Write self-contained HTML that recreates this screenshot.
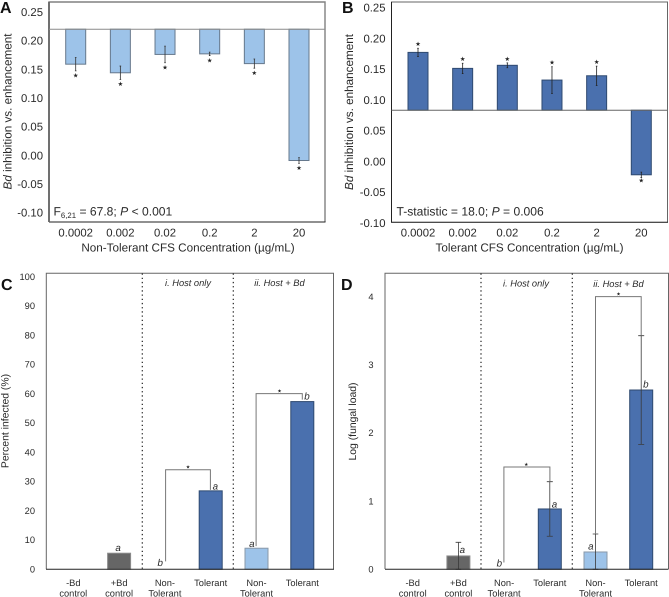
<!DOCTYPE html>
<html lang="en">
<head>
<meta charset="utf-8">
<title>Bd inhibition and infection charts</title>
<style>
html,body{margin:0;padding:0;background:#fff;width:669px;height:597px;overflow:hidden}
svg{display:block;filter:blur(0.3px)}
text{font-family:"Liberation Sans",Arial,sans-serif;fill:#2a2a2a;text-rendering:geometricPrecision}
.tk{font-size:11.3px}
.tt{font-size:11.7px}
.st{font-size:12.1px}
.tc{font-size:9.3px}
.lt{font-size:9.8px}
.it{font-style:italic}
</style>
</head>
<body>
<svg id="figure" xmlns="http://www.w3.org/2000/svg" width="669" height="597" viewBox="0 0 669 597">
  <g>
    <text x="0" y="13" style="font-size:16px;font-weight:bold;fill:#111">A</text>
    <path d="M49 222V2H325V222" fill="none" stroke="#808080" stroke-width="1.4"/>
    <line x1="49" y1="222" x2="325.5" y2="222" stroke="#222" stroke-width="1"/>
    <line x1="49" y1="2" x2="49" y2="222" stroke="#666" stroke-width="1.8"/>
    <text class="tt" transform="translate(11.5,111.5) rotate(-90)" text-anchor="middle"><tspan class="it">Bd</tspan> inhibition vs. enhancement</text>
    <text class="tt" x="188" y="251.5" text-anchor="middle">Non-Tolerant CFS Concentration (µg/mL)</text>
    <text class="st" x="53.5" y="215.5">F<tspan font-size="7.8" dy="2.5">6,21</tspan><tspan dy="-2.5"> = 67.8; </tspan><tspan class="it">P</tspan> &lt; 0.001</text>
  </g>
  <g>
    <text x="342" y="13" style="font-size:16px;font-weight:bold;fill:#111">B</text>
    <path d="M391.5 222V2H667.5V222" fill="none" stroke="#666" stroke-width="1"/>
    <line x1="391" y1="222.3" x2="668" y2="222.3" stroke="#111" stroke-width="1"/>
    <line x1="391.5" y1="2" x2="391.5" y2="222" stroke="#222" stroke-width="1"/>
    <text class="tt" transform="translate(353,112) rotate(-90)" text-anchor="middle"><tspan class="it">Bd</tspan> inhibition vs. enhancement</text>
    <text class="tt" x="529.5" y="251.5" text-anchor="middle">Tolerant CFS Concentration (µg/mL)</text>
    <text class="st" x="396.5" y="215.5">T-statistic = 18.0; <tspan class="it">P</tspan> = 0.006</text>
  </g>
  <g>
    <text x="1" y="290" style="font-size:16px;font-weight:bold;fill:#111">C</text>
    <path d="M46.3 569V273.3H333.5V569" fill="none" stroke="#666" stroke-width="1"/>
    <text transform="translate(8.5,421) rotate(-90)" text-anchor="middle" style="font-size:10.4px">Percent infected (%)</text>
    <text class="tc it" x="188" y="285.8" text-anchor="middle">i. Host only</text>
    <text class="tc it" x="279.5" y="286" text-anchor="middle">ii. Host + Bd</text>
    <line x1="142.3" y1="273.5" x2="142.3" y2="569" stroke="#222" stroke-width="1.2" stroke-dasharray="1.3 2.9"/>
    <line x1="233.3" y1="273.5" x2="233.3" y2="569" stroke="#222" stroke-width="1.2" stroke-dasharray="1.3 2.9"/>
  </g>
  <g>
    <text x="341" y="290" style="font-size:16px;font-weight:bold;fill:#111">D</text>
    <path d="M385 569V273.3H668.5V569" fill="none" stroke="#666" stroke-width="1"/>
    <text transform="translate(356,421.5) rotate(-90)" text-anchor="middle" style="font-size:10.4px">Log (fungal load)</text>
    <text class="tc it" x="526" y="286.5" text-anchor="middle">i. Host only</text>
    <text class="tc it" x="618.5" y="287" text-anchor="middle">ii. Host + Bd</text>
    <line x1="481" y1="273.5" x2="481" y2="569" stroke="#222" stroke-width="1.2" stroke-dasharray="1.3 2.9"/>
    <line x1="572.3" y1="273.5" x2="572.3" y2="569" stroke="#222" stroke-width="1.2" stroke-dasharray="1.3 2.9"/>
  </g>
</svg>
<script>
const concentrations = ["0.0002", "0.002", "0.02", "0.2", "2", "20"];
const panelAValues = [0.159, 0.144, 0.176, 0.177, 0.160, -0.009];
const panelAErrors = [0.0117, 0.0117, 0.0145, 0.003, 0.008, 0.005];
const panelABaseline = 0.22;
const panelATicks = ["0.25", "0.20", "0.15", "0.10", "0.05", "0.00", "-0.05", "-0.10"];
const panelBValues = [0.177, 0.151, 0.156, 0.132, 0.139, -0.022];
const panelBErrors = [0.0068, 0.0084, 0.004, 0.0217, 0.0157, 0.0043];
const panelBBaseline = 0.083;
const panelBTicks = ["0.25", "0.20", "0.15", "0.10", "0.05", "0.00", "-0.05", "-0.10"];
const hostCategories = [["-Bd", "control"], ["+Bd", "control"], ["Non-", "Tolerant"], ["Tolerant"], ["Non-", "Tolerant"], ["Tolerant"]];
const hostColors = ["none", "#666666", "none", "#4a70ae", "#9dc3e9", "#4a70ae"];
const panelCValues = [0, 5.5, 0, 26.8, 7.2, 57.3];
const panelCTicks = ["100", "90", "80", "70", "60", "50", "40", "30", "20", "10", "0"];
const panelCLetters = ["", "a", "b", "a", "a", "b"];
const panelCBrackets = [34, 60];
const panelDValues = [0, 0.196, 0, 0.885, 0.254, 2.63];
const panelDErrors = [0, 0.2, 0, 0.4, 0.264, 0.797];
const panelDTicks = ["4", "3", "2", "1", "0"];
const panelDLetters = ["", "a", "b", "a", "a", "b"];
const panelDBrackets = [1.5, 4.0];

const SVG_NS = "http://www.w3.org/2000/svg";
const figure = document.getElementById("figure");

const xA = i => 75.7 + i * 44.66;
const yA = v => 12 + (0.25 - v) * 573.4;
const xB = i => 418 + i * 44.66;
const yB = v => 7.5 + (0.25 - v) * 615;
const xC = i => 73.3 + i * 45.8;
const yC = v => 569.3 - v * 2.927;
const xD = i => 412.7 + i * 45.7;
const yD = v => 569.3 - v * 68.17;

function drawBar(x, yTop, yBottom, width, fill, stroke) {
  const rect = document.createElementNS(SVG_NS, "rect");
  
  
  rect.setAttribute("x", x - width / 2);
  rect.setAttribute("y", Math.min(yTop, yBottom));
  rect.setAttribute("width", width);
  rect.setAttribute("height", Math.abs(yBottom - yTop));
  rect.setAttribute("fill", fill);
  rect.setAttribute("stroke", stroke);
  rect.setAttribute("stroke-width", "1");
  figure.appendChild(rect);
}
function drawError(x, y1, y2, cap, color) {
  const err = document.createElementNS(SVG_NS, "path");
  
  
  err.setAttribute("d", "M" + x + " " + y1 + "V" + y2 + "M" + (x - cap) + " " + y1 + "H" + (x + cap) + "M" + (x - cap) + " " + y2 + "H" + (x + cap));
  err.setAttribute("fill", "none");
  err.setAttribute("stroke", color);
  err.setAttribute("stroke-width", "0.8");
  figure.appendChild(err);
}
function drawStar(x, y, size) {
  const star = document.createElementNS(SVG_NS, "text");
  
  
  star.setAttribute("x", x);
  star.setAttribute("y", y + size * 0.36);
  star.setAttribute("text-anchor", "middle");
  star.setAttribute("style", "font-family:'DejaVu Sans',sans-serif;font-size:" + size + "px;fill:#222");
  star.textContent = "★";
  figure.appendChild(star);
}
function drawYTick(label, x, y, cls) {
  const tick = document.createElementNS(SVG_NS, "text");
  
  
  tick.setAttribute("x", x);
  tick.setAttribute("y", y);
  tick.setAttribute("text-anchor", "end");
  tick.setAttribute("class", cls);
  tick.textContent = label;
  figure.appendChild(tick);
}
function drawXTick(label, x, y, cls) {
  const tick = document.createElementNS(SVG_NS, "text");
  
  
  tick.setAttribute("x", x);
  tick.setAttribute("y", y);
  tick.setAttribute("text-anchor", "middle");
  tick.setAttribute("class", cls);
  tick.textContent = label;
  figure.appendChild(tick);
}
function drawBaseline(x1, x2, y, color) {
  const base = document.createElementNS(SVG_NS, "line");
  
  
  base.setAttribute("x1", x1);
  base.setAttribute("x2", x2);
  base.setAttribute("y1", y);
  base.setAttribute("y2", y);
  base.setAttribute("stroke", color);
  base.setAttribute("stroke-width", "1");
  figure.appendChild(base);
}
function drawBracket(xLeft, yLeft, xRight, yRight, yTop) {
  const bracket = document.createElementNS(SVG_NS, "path");
  
  
  bracket.setAttribute("d", "M" + xLeft + " " + yLeft + "V" + yTop + "H" + xRight + "V" + yRight);
  bracket.setAttribute("fill", "none");
  bracket.setAttribute("stroke", "#777");
  bracket.setAttribute("stroke-width", "1");
  figure.appendChild(bracket);
}
function drawLetter(letter, x, y) {
  const mark = document.createElementNS(SVG_NS, "text");
  
  
  mark.setAttribute("x", x);
  mark.setAttribute("y", y + 3);
  mark.setAttribute("text-anchor", "middle");
  mark.setAttribute("class", "lt it");
  mark.textContent = letter;
  figure.appendChild(mark);
}

/* Panel A */
panelATicks.forEach(t => drawYTick(t, 43, yA(parseFloat(t)) + 4, "tk"));
concentrations.forEach((c, i) => drawXTick(c, xA(i), 236.5, "tk"));
panelAValues.forEach((v, i) => {
  drawBar(xA(i), yA(panelABaseline), yA(v), 20, "#9dc3e9", "#66788c");
  drawError(xA(i), yA(v + panelAErrors[i]), yA(v - panelAErrors[i]), 0.8, "#333");
  drawStar(xA(i), yA(v - panelAErrors[i]) + 4.5, 6.2);
});
drawBaseline(49, 325, yA(panelABaseline), "#8a8a8a");

/* Panel B */
panelBTicks.forEach(t => drawYTick(t, 385.5, yB(parseFloat(t)) + 4, "tk"));
concentrations.forEach((c, i) => drawXTick(c, xB(i), 236.5, "tk"));
panelBValues.forEach((v, i) => {
  drawBar(xB(i), yB(panelBBaseline), yB(v), 20, "#4a70ae", "#2f4a70");
  drawError(xB(i), yB(v + panelBErrors[i]), yB(v - panelBErrors[i]), 0.8, "#222");
  if (v > panelBBaseline) {
    drawStar(xB(i), yB(v + panelBErrors[i]) - 4.3, 6.2);
  } else {
    drawStar(xB(i), yB(v - panelBErrors[i]) + 3, 6.2);
  }
});
drawBaseline(391.5, 667.5, yB(panelBBaseline), "#666");

/* Panel C */
panelCTicks.forEach(t => drawYTick(t, 35, yC(parseFloat(t)) + 3.2, "tc"));
hostCategories.forEach((lines, i) => lines.forEach((line, k) => drawXTick(line, xC(i), 586 + k * 10.7, "tc")));
panelCValues.forEach((v, i) => {
  if (v > 0) drawBar(xC(i), yC(v), yC(0), 23, hostColors[i], i === 1 ? "#8c8c8c" : i === 4 ? "#8a99a8" : "#2f4a70");
});
drawBaseline(46, 334, yC(0), "#222");
drawBracket(xC(2) + 0.7, yC(2.7), xC(3) - 0.3, yC(26.8) - 1, yC(panelCBrackets[0]));
drawBracket(xC(4) - 0.4, yC(7.9), xC(5), yC(57.3) - 2, yC(panelCBrackets[1]));
drawStar(188, yC(panelCBrackets[0]) - 3, 4.8);
drawStar(279.5, yC(panelCBrackets[1]) - 3, 4.8);
drawLetter(panelCLetters[1], xC(1) - 1, yC(panelCValues[1]) - 5.3);
drawLetter(panelCLetters[2], xC(2) - 4.7, 563);
drawLetter(panelCLetters[3], xC(3) + 4.7, yC(panelCValues[3]) - 4.5);
drawLetter(panelCLetters[4], xC(4) - 4.7, yC(panelCValues[4]) - 4.3);
drawLetter(panelCLetters[5], xC(5) + 4.7, yC(panelCValues[5]) - 5);

/* Panel D */
panelDTicks.forEach(t => drawYTick(t, 373.5, yD(parseFloat(t)) + 3.2, "tc"));
hostCategories.forEach((lines, i) => lines.forEach((line, k) => drawXTick(line, xD(i), 586 + k * 10.7, "tc")));
panelDValues.forEach((v, i) => {
  if (v > 0) drawBar(xD(i), yD(v), yD(0), 23, hostColors[i], i === 1 ? "#8c8c8c" : i === 4 ? "#8a99a8" : "#2f4a70");
});
panelDErrors.forEach((e, i) => {
  if (e > 0) drawError(xD(i), yD(panelDValues[i] + e), yD(Math.max(0, panelDValues[i] - e)), i === 1 || i === 4 ? 2.8 : 3, "#3a3a3a");
});
drawBaseline(385, 668.5, yD(0), "#222");
drawBracket(xD(2) - 0.2, yD(0.1), xD(3) + 0.1, yD(panelDValues[3] + panelDErrors[3]), yD(panelDBrackets[0]));
drawBracket(xD(4), yD(panelDValues[4] + panelDErrors[4]), xD(5), yD(panelDValues[5] + panelDErrors[5]), yD(panelDBrackets[1]));
drawStar(526.3, yD(panelDBrackets[0]) - 3, 4.8);
drawStar(618.5, yD(panelDBrackets[1]) - 3, 4.8);
drawLetter(panelDLetters[1], xD(1) + 4, yD(panelDValues[1]) - 6);
drawLetter(panelDLetters[2], xD(2) - 4.7, 563.3);
drawLetter(panelDLetters[3], xD(3) + 4.7, yD(panelDValues[3]) - 4.3);
drawLetter(panelDLetters[4], xD(4) - 4.7, yD(panelDValues[4]) - 5.3);
drawLetter(panelDLetters[5], xD(5) + 4.7, yD(panelDValues[5]) - 5.3);
</script>
</body>
</html>
